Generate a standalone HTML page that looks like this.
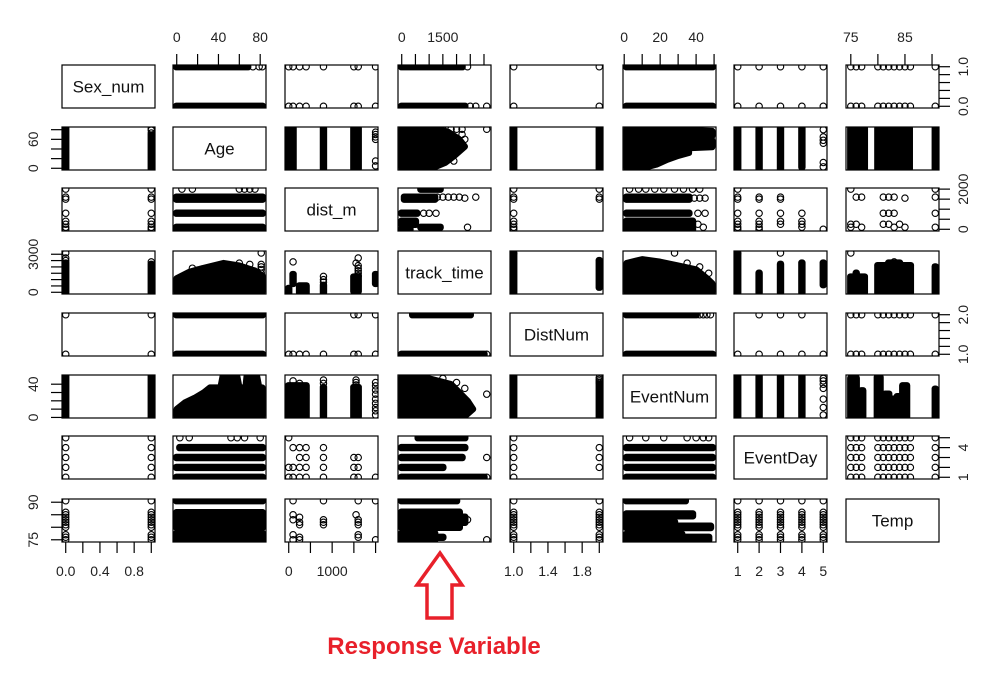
<!DOCTYPE html>
<html><head><meta charset="utf-8"><style>
html,body{margin:0;padding:0;background:#fff;}
svg{display:block;font-family:"Liberation Sans",Arial,sans-serif;}
</style></head><body>
<svg id="chart" width="992" height="700" viewBox="0 0 992 700"></svg>
<script>
// ---- data ----
const varNames = ['Sex_num','Age','dist_m','track_time','DistNum','EventNum','EventDay','Temp'];
const varMin = [0, 0, 0, 0, 1, 1.4, 1, 74.8];
const varMax = [1, 82, 1970, 3120, 2, 49, 5, 90.6];
const distValues = [0,100,250,400,800,1500,1600,2000];
const tempValues = [75,76,77,80,81,82,83,84,85,86,90.6];
const dayValues = [1,2,3,4,5];

const sexAge = [['r',0,68,1,1],['r',0,82,0,0],['p',73,1],['p',79,1],['p',82,1]];
const sexDist = distValues.flatMap(d=>[['p',d,0],['p',d,1]]);
const sexTrack = [['r',0,2200,1,1],['p',2400,1],['r',0,2300,0,0],['p',2500,0],['p',2700,0],['p',3100,0]];
const sexDistNum = [['p',1,0],['p',1,1],['p',2,0],['p',2,1]];
const sexEventNum = [['r',1.4,49,0,0],['r',1.4,49,1,1]];
const sexEventDay = dayValues.flatMap(d=>[['p',d,0],['p',d,1]]);
const sexTemp = tempValues.flatMap(t=>[['p',t,0],['p',t,1]]);
const ageDist = [['r',0,100,0,82],['r',800,800,0,82],['r',1500,1600,0,82],['p',2000,75],['p',2000,70],['p',2000,65],['p',2000,60],['p',2000,15],['p',2000,5]];
const ageTrack = [['g',[[0,0],[1100,0],[1600,12],[1900,25],[2300,45],[2100,60],[1700,75],[1300,82],[0,82]]],['p',1500,81],['p',1800,81],['p',2000,81],['p',2200,81],['p',3100,81],['p',2200,70],['p',2300,60],['p',2100,50],['p',1750,20],['p',1900,15]];
const ageDistNum = [['r',1,1,0,82],['r',2,2,0,82]];
const ageEventNum = [['g',[[1.4,0],[10,0],[18,8],[24,18],[30,26],[36,32],[36,42],[49,44],[49,58],[36,60],[36,66],[49,67],[49,77],[36,79],[36,82],[1.4,82]]]];
const ageEventDay = [['r',1,1,0,82],['r',2,2,0,82],['r',3,3,0,82],['r',4,4,3,82],['p',5,80],['p',5,65],['p',5,58],['p',5,52],['p',5,12],['p',5,3]];
const ageTemp = [['r',75,77.5,0,82],['r',80,85.8,0,82],['r',90.6,90.6,0,82]];
const distTrack = [['r',700,1400,2000,2000],['r',100,1200,1500,1600],['p',1300,1600],['p',1500,1600],['p',1700,1600],['p',1900,1600],['p',2100,1600],['p',2300,1550],['p',2700,1600],['r',0,550,800,800],['p',800,800],['p',1000,800],['p',1250,800],['r',0,500,250,400],['r',700,1400,100,100],['p',2400,100],['r',0,300,0,0]];
const distDistNum = distValues.map(d=>['p',1,d]).concat([['p',2,1500],['p',2,1600],['p',2,2000]]);
const distEventNum = [['p',3,2000],['p',8,2000],['p',12,2000],['p',17,2000],['p',22,2000],['p',28,2000],['p',33,2000],['p',38,2000],['p',42,2000],['r',1.4,36,1500,1600],['p',39,1550],['p',42,1550],['p',45,1550],['r',1.4,36,800,800],['p',41,800],['p',45,800],['r',1.4,38,0,400],['p',41,250],['p',44,100]];
const distEventDay = [[1,[0,100,250,400,800,1500,1600,2000]],[2,[0,100,250,400,800,1500,1600]],[3,[250,400,800,1500,1600]],[4,[100,250,400,800]],[5,[0]]].flatMap(a=>a[1].map(d=>['p',a[0],d]));
const distTemp = [['p',75,2000],['p',76,1600],['p',77,1600],['p',81,1600],['p',82,1600],['p',83,1600],['p',85,1550],['p',81,800],['p',82,800],['p',83,800],['p',75,250],['p',76,250],['p',77,100],['p',75,100],['p',81,250],['p',82,250],['p',83,100],['p',84,250],['p',85,100],['p',90.6,2000],['p',90.6,1600],['p',90.6,800],['p',90.6,100]];
const trackDistNum = [['r',1,1,0,3000],['p',1,3100],['r',2,2,400,2500]];
const trackEventNum = [['g',[[1.4,0],[1.4,2300],[10,2600],[20,2400],[30,2100],[40,1800],[46,1100],[49,700],[49,0]]],['p',28,3100],['p',35,2300],['p',42,2000],['p',47,1500]];
const trackEventDay = [['r',1,1,0,3000],['p',1,3100],['r',2,2,0,1500],['r',3,3,0,2200],['p',3,3100],['r',4,4,0,2300],['r',5,5,600,2300]];
const trackTemp = [['r',75,77.5,0,1200],['r',76,76,0,1500],['r',80,86,0,2100],['r',82,84,0,2300],['r',90.6,90.6,0,2000],['p',75,3100],['p',83,2400]];
const distnumEventNum = [['r',1.4,49,1,1],['r',1.4,40,2,2],['p',42,2],['p',44,2],['p',46,2],['p',48,2]];
const distnumEventDay = [['p',1,1],['p',2,1],['p',3,1],['p',4,1],['p',5,1],['p',2,2],['p',3,2],['p',4,2]];
const distnumTemp = tempValues.flatMap(t=>[['p',t,1],['p',t,2]]);
const eventnumEventDay = [['r',1,1,1.4,49],['r',2,2,1.4,49],['r',3,3,1.4,49],['r',4,4,1.4,49],['p',5,47],['p',5,44],['p',5,40],['p',5,35],['p',5,22],['p',5,12],['p',5,3]];
const eventnumTemp = [['r',75,76,1.4,47],['r',77,77.2,1.4,32],['r',79.9,80.4,1.4,48],['r',81.4,82,1.4,28],['r',82.6,83.3,1.4,22],['r',83.6,84,1.4,25],['r',84.6,85.3,1.4,38],['r',90.6,90.6,1.4,34]];
const eventdayTemp = tempValues.flatMap(t=>dayValues.map(d=>['p',t,d]));

const pairs = [
 [1,0,sexAge],[2,0,sexDist],[3,0,sexTrack],[4,0,sexDistNum],[5,0,sexEventNum],[6,0,sexEventDay],[7,0,sexTemp],
 [2,1,ageDist],[3,1,ageTrack],[4,1,ageDistNum],[5,1,ageEventNum],[6,1,ageEventDay],[7,1,ageTemp],
 [3,2,distTrack],[4,2,distDistNum],[5,2,distEventNum],[6,2,distEventDay],[7,2,distTemp],
 [4,3,trackDistNum],[5,3,trackEventNum],[6,3,trackEventDay],[7,3,trackTemp],
 [5,4,distnumEventNum],[6,4,distnumEventDay],[7,4,distnumTemp],
 [6,5,eventnumEventDay],[7,5,eventnumTemp],
 [7,6,eventdayTemp]
];

const topTicks = {1:[0,20,40,60,80],3:[0,500,1000,1500,2000,2500,3000],5:[0,10,20,30,40,50],7:[75,80,85,90]};
const topLabels = {1:[0,40,80],3:[0,1500],5:[0,20,40],7:[75,85]};
const bottomTicks = {0:[0,0.2,0.4,0.6,0.8,1],2:[0,500,1000,1500,2000],4:[1,1.2,1.4,1.6,1.8,2],6:[1,2,3,4,5]};
const bottomLabels = {0:['0.0','0.4','0.8'],2:['0','1000'],4:['1.0','1.4','1.8'],6:['1','2','3','4','5']};
const leftTicks = {1:[0,20,40,60,80],3:[0,500,1000,1500,2000,2500,3000],5:[0,10,20,30,40],7:[75,80,85,90]};
const leftLabels = {1:['0','60'],3:['0','3000'],5:['0','40'],7:['75','90']};
const rightTicks = {0:[0,0.2,0.4,0.6,0.8,1],2:[0,500,1000,1500,2000],4:[1,1.2,1.4,1.6,1.8,2],6:[1,2,3,4,5]};
const rightLabels = {0:['0.0','1.0'],2:['0','2000'],4:['1.0','2.0'],6:['1','4']};

const colX = [62,173,285,398,510,623,734,846];
const rowY = [65,127,188,251,313,375,436,499];
const W = 93, H = 43, R = 3.2;
const NS = 'http://www.w3.org/2000/svg';
const svg = document.getElementById('chart');
function el(tag, attrs, parent){ const e=document.createElementNS(NS,tag); for(const k in attrs) e.setAttribute(k,attrs[k]); (parent||svg).appendChild(e); return e; }
function sx(v,c,val){ return colX[c] + W*(0.04 + 0.92*(val-varMin[v])/(varMax[v]-varMin[v])); }
function sy(v,r,val){ return rowY[r] + H - H*(0.04 + 0.92*(val-varMin[v])/(varMax[v]-varMin[v])); }

const defs = el('defs',{});
for(let r=0;r<8;r++) for(let c=0;c<8;c++){
  const cp = el('clipPath',{id:'cp'+r+'_'+c},defs);
  el('rect',{x:colX[c],y:rowY[r],width:W,height:H},cp);
}

function drawPanel(marks, xv, yv, row, col, swap){
  const g = el('g',{'clip-path':'url(#cp'+row+'_'+col+')'});
  
  
  for(const m of marks){
    if(m[0]==='p'){
      const x = swap? m[2]:m[1], y = swap? m[1]:m[2];
      const c = el('circle',{cx:sx(xv,col,x),cy:sy(yv,row,y),r:R,fill:'none',stroke:'#000','stroke-width':1.1},g);
      
      
    } else if(m[0]==='r'){
      const x0 = swap? m[3]:m[1], x1 = swap? m[4]:m[2], y0 = swap? m[1]:m[3], y1 = swap? m[2]:m[4];
      const a=sx(xv,col,x0), b=sx(xv,col,x1), p=sy(yv,row,y0), q=sy(yv,row,y1);
      const rc = el('rect',{x:Math.min(a,b)-R-0.5,y:Math.min(p,q)-R-0.5,width:Math.abs(b-a)+2*R+1,height:Math.abs(q-p)+2*R+1,rx:R,fill:'#000'},g);
      
      
    } else if(m[0]==='g'){
      const pts = m[1].map(pt=>{const x=swap?pt[1]:pt[0], y=swap?pt[0]:pt[1]; return sx(xv,col,x)+','+sy(yv,row,y);}).join(' ');
      const pg = el('polygon',{points:pts,fill:'#000',stroke:'#000','stroke-width':2*R,'stroke-linejoin':'round'},g);
      
      
    }
  }
}
for(const [a,b,marks] of pairs){
  drawPanel(marks, a, b, b, a, false);
  drawPanel(marks, b, a, a, b, true);
}

for(let r=0;r<8;r++) for(let c=0;c<8;c++){
  const f = el('rect',{x:colX[c],y:rowY[r],width:W,height:H,fill:'none',stroke:'#000','stroke-width':1.2});
  
  
  if(r===c){
    const t = el('text',{x:colX[c]+W/2,y:rowY[r]+H/2+6,'text-anchor':'middle','font-size':17,fill:'#111'});
    t.textContent = varNames[r];
    
    
  }
}

for(const c in topTicks){
  const v=+c, y0=rowY[0];
  const tk=topTicks[c];
  el('line',{x1:sx(v,v,tk[0]),x2:sx(v,v,tk[tk.length-1]),y1:y0,y2:y0,stroke:'#000'});
  for(const t of tk) el('line',{x1:sx(v,v,t),x2:sx(v,v,t),y1:y0,y2:y0-11,stroke:'#000','stroke-width':1.2});
  for(const t of topLabels[c]){
    const tx = el('text',{x:sx(v,v,t),y:42,'text-anchor':'middle','font-size':14,fill:'#222'});
    tx.textContent = String(t);
    
    
  }
}
for(const c in bottomTicks){
  const v=+c, y0=rowY[7]+H;
  const tk=bottomTicks[c], lb=bottomLabels[c];
  el('line',{x1:sx(v,v,tk[0]),x2:sx(v,v,tk[tk.length-1]),y1:y0,y2:y0,stroke:'#000'});
  for(const t of tk) el('line',{x1:sx(v,v,t),x2:sx(v,v,t),y1:y0,y2:y0+11,stroke:'#000','stroke-width':1.2});
  for(const s of lb){
    const tx = el('text',{x:sx(v,v,parseFloat(s)),y:576,'text-anchor':'middle','font-size':14,fill:'#222'});
    tx.textContent = s;
    
    
  }
}
for(const r in leftTicks){
  const v=+r, x0=colX[0];
  const tk=leftTicks[r];
  el('line',{x1:x0,x2:x0,y1:sy(v,v,tk[0]),y2:sy(v,v,tk[tk.length-1]),stroke:'#000'});
  for(const t of tk) el('line',{x1:x0,x2:x0-11,y1:sy(v,v,t),y2:sy(v,v,t),stroke:'#000','stroke-width':1.2});
  for(const s of leftLabels[r]){
    const yy=sy(v,v,parseFloat(s));
    const tx = el('text',{x:38,y:yy,'text-anchor':'middle','font-size':14,fill:'#222',transform:'rotate(-90 38 '+yy+')'});
    tx.textContent = s;
    
    
  }
}
for(const r in rightTicks){
  const v=+r, x0=colX[7]+W;
  const tk=rightTicks[r];
  el('line',{x1:x0,x2:x0,y1:sy(v,v,tk[0]),y2:sy(v,v,tk[tk.length-1]),stroke:'#000'});
  for(const t of tk) el('line',{x1:x0,x2:x0+11,y1:sy(v,v,t),y2:sy(v,v,t),stroke:'#000','stroke-width':1.2});
  for(const s of rightLabels[r]){
    const yy=sy(v,v,parseFloat(s));
    const tx = el('text',{x:968,y:yy,'text-anchor':'middle','font-size':14,fill:'#222',transform:'rotate(-90 968 '+yy+')'});
    tx.textContent = s;
    
    
  }
}
</script>
<svg style="position:absolute;left:0;top:0" width="992" height="700">
  <polygon points="440,553 462,585 452,585 452,618 427,618 427,585 417,585" fill="none" stroke="#e8202a" stroke-width="3.5" stroke-linejoin="miter"/>
  <text x="434" y="654" text-anchor="middle" font-family="Liberation Sans, Arial, sans-serif" font-weight="bold" font-size="24" fill="#e8202a">Response Variable</text>
</svg>
</body></html>
